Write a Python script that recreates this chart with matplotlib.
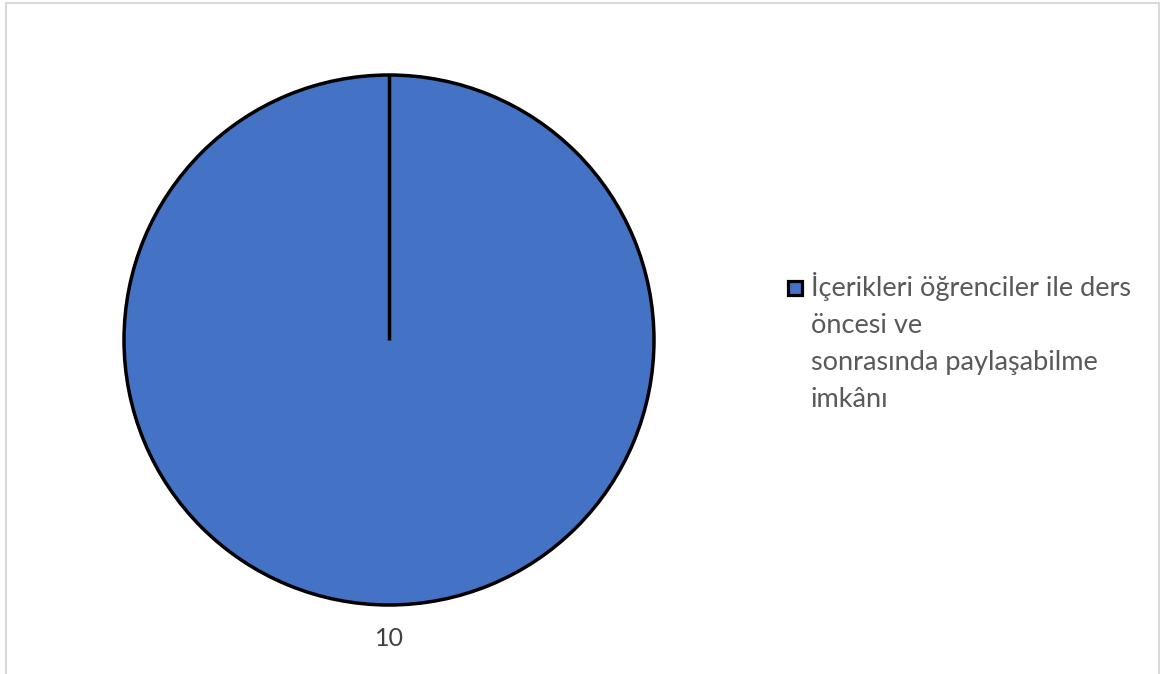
import matplotlib
matplotlib.use('Agg')
import numpy as np
import matplotlib.pyplot as plt
from matplotlib.patches import Rectangle

# Veri
categories = ["İçerikleri öğrenciler ile ders\nöncesi ve\nsonrasında paylaşabilme\nimkânı"]
values = [10]
value_labels = ["10"]

plt.rcParams['font.family'] = ['Lato', 'DejaVu Sans']

fig = plt.figure(figsize=(11.62, 6.74), dpi=100)

# dış çerçeve
fig.patches.append(Rectangle((6 / 1162, -0.01), 1153 / 1162, (674 - 3) / 674 + 0.01,
                             transform=fig.transFigure, fill=False,
                             edgecolor='#d9d9d9', linewidth=1.5))

ax = fig.add_axes([124 / 1162, 69 / 674, 530 / 1162, 530 / 674])
wedges, texts = ax.pie(values, labels=value_labels, colors=['#4472c4'],
                       startangle=90, counterclock=False, labeldistance=1.125,
                       wedgeprops=dict(edgecolor='black', linewidth=2.5),
                       textprops=dict(color='#404040', fontsize=18))
for t in texts:
    t.set_ha('center')
    t.set_va('center')

# tek dilimde kenar çizgisi (merkezden başlangıç açısına)
for w in wedges:
    cx, cy = w.center
    ang = np.deg2rad(w.theta1)
    ax.plot([cx, cx + w.r * np.cos(ang)], [cy, cy + w.r * np.sin(ang)],
            color='black', linewidth=2.5, solid_capstyle='butt')

ax.set_aspect('equal')
ax.set_xlim(-1, 1)
ax.set_ylim(-1, 1)

# lejant (elle)
fig.patches.append(Rectangle((788 / 1162, (674 - 295) / 674), 14 / 1162, 14 / 674,
                             transform=fig.transFigure, facecolor='#4472c4',
                             edgecolor='black', linewidth=2.3))
fig.text(811 / 1162, (674 - 272) / 674, categories[0], ha='left', va='top',
         fontsize=19.5, color='#595959', linespacing=1.6,
         transform=fig.transFigure)

fig.savefig('out.png', dpi=100)
